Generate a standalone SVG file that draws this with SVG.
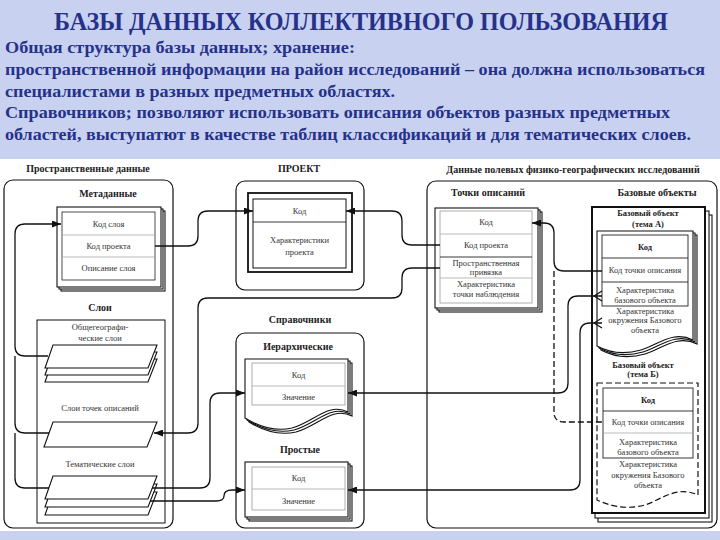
<svg xmlns="http://www.w3.org/2000/svg" width="720" height="540" viewBox="0 0 720 540">
<defs>
<style>
.hd{font-family:'Liberation Serif',serif;font-weight:bold;fill:#26318a}
.t{font-family:'Liberation Serif',serif;font-size:8.5px;fill:#333;text-anchor:middle}
.tb{font-family:'Liberation Serif',serif;font-size:8.5px;font-weight:bold;fill:#222;text-anchor:middle}
.lb{font-family:'Liberation Serif',serif;font-size:10px;font-weight:bold;fill:#222;text-anchor:middle}
.fr{fill:none;stroke:#111;stroke-width:1.2}
.bx{fill:#fff;stroke:#111;stroke-width:1.1}
.in{fill:none;stroke:#999;stroke-width:0.8}
.gl{stroke:#aaa;stroke-width:0.8}
.bl{stroke:#222;stroke-width:0.9}
.cn{fill:none;stroke:#111;stroke-width:1.3}
.ds{fill:none;stroke:#111;stroke-width:1.3;stroke-dasharray:6,3}
</style>
<marker id="ar" markerWidth="9" markerHeight="7" refX="9" refY="3.5" orient="auto" markerUnits="userSpaceOnUse">
<path d="M0,0 L9,3.5 L0,7 z" fill="#111"/>
</marker>
</defs>

<rect x="0" y="0" width="720" height="540" fill="#c8d2f0"/>
<rect x="0" y="159" width="720" height="372" fill="#fff"/>

<g id="heading">
<text class="hd" x="54" y="30" font-size="25" textLength="614" lengthAdjust="spacingAndGlyphs">БАЗЫ ДАННЫХ КОЛЛЕКТИВНОГО ПОЛЬЗОВАНИЯ</text>
<text class="hd" x="5" y="53" font-size="17" textLength="350" lengthAdjust="spacingAndGlyphs">Общая структура базы данных; хранение:</text>
<text class="hd" x="5" y="75" font-size="17" textLength="700" lengthAdjust="spacingAndGlyphs">пространственной информации на район исследований – она должна использоваться</text>
<text class="hd" x="5" y="97" font-size="17" textLength="390" lengthAdjust="spacingAndGlyphs">специалистами в разных предметных областях.</text>
<text class="hd" x="5" y="118" font-size="17" textLength="665" lengthAdjust="spacingAndGlyphs">Справочников; позволяют использовать описания объектов разных предметных</text>
<text class="hd" x="5" y="140" font-size="17" textLength="686" lengthAdjust="spacingAndGlyphs">областей, выступатют в качестве таблиц классификаций и для тематических слоев.</text>
</g>

<!-- Spatial data -->
<g id="spatial">
<text class="lb" x="88" y="172">Пространственные данные</text>
<rect class="fr" x="4" y="180" width="169" height="348" rx="9"/>
</g>

<g id="metadata">
<text class="lb" x="108" y="197" font-size="9.5">Метаданные</text>
<rect class="bx" x="61" y="211" width="104" height="80"/>
<rect class="bx" x="59" y="209" width="104" height="80"/>
<rect class="bx" x="57" y="207" width="104" height="80"/>
<rect x="62" y="212" width="93" height="68" fill="none" stroke="#222" stroke-width="0.8"/>
<line class="gl" x1="62" y1="235" x2="155" y2="235"/>
<line class="gl" x1="62" y1="257" x2="155" y2="257"/>
<text class="t" x="108.5" y="227">Код слоя</text>
<text class="t" x="108.5" y="249">Код проекта</text>
<text class="t" x="108.5" y="271">Описание слоя</text>
</g>

<g id="layers">
<text class="lb" x="100" y="311">Слои</text>
<rect x="37" y="320" width="128" height="203" fill="none" stroke="#111" stroke-width="1"/>
<text class="t" x="100" y="330" font-size="9">Общегеографи-</text>
<text class="t" x="100" y="341" font-size="9">ческие слои</text>
<polygon class="bx" points="53,359 157,359 148,382 45,382"/>
<polygon class="bx" points="53,352 157,352 148,375 45,375"/>
<polygon class="bx" points="53,345 157,345 148,368 45,368"/>
<text class="t" x="100" y="411" font-size="9">Слои точек описаний</text>
<polygon class="bx" points="53,422 157,422 147,447 44,447"/>
<text class="t" x="100" y="467" font-size="9">Тематические слои</text>
<polygon class="bx" points="53,492 157,492 148,515 45,515"/>
<polygon class="bx" points="53,484 157,484 148,507 45,507"/>
<polygon class="bx" points="53,476 157,476 148,499 45,499"/>
</g>

<!-- Project -->
<g id="project">
<text class="lb" x="299" y="172" font-size="11">ПРОЕКТ</text>
<rect class="fr" x="236" y="181" width="128" height="109" rx="9"/>
<rect x="248" y="193" width="104" height="79" fill="none" stroke="#111" stroke-width="1.8"/>
<rect x="253" y="199" width="93" height="69" fill="none" stroke="#111" stroke-width="1"/>
<line class="bl" x1="253" y1="222" x2="346" y2="222"/>
<text class="t" x="299.5" y="214">Код</text>
<text class="t" x="299.5" y="243">Характеристики</text>
<text class="t" x="299.5" y="255">проекта</text>
</g>

<!-- Reference books -->
<g id="refbooks">
<text class="lb" x="300" y="323">Справочники</text>
<rect class="fr" x="236" y="333" width="128" height="195" rx="9"/>
</g>

<g id="hierarchical">
<text class="lb" x="298" y="350" font-size="9.5">Иерархические</text>
<path class="bx" d="M249,363 H352 V416 C332,406 318,426 296,432 C278,436 262,430 249,422 Z"/>
<path class="bx" d="M247,361 H350 V414 C330,404 316,424 294,430 C276,434 260,428 247,420 Z"/>
<path class="bx" d="M245,359 H348 V412 C328,402 314,422 292,428 C274,432 258,426 245,418 Z"/>
<rect class="in" x="252" y="363" width="93" height="42"/>
<line class="gl" x1="252" y1="386" x2="345" y2="386"/>
<text class="t" x="298.5" y="378">Код</text>
<text class="t" x="298.5" y="400">Значение</text>
</g>

<g id="simple">
<text class="lb" x="300" y="453" font-size="9.5">Простые</text>
<rect class="bx" x="249" y="466" width="103" height="55"/>
<rect class="bx" x="247" y="464" width="103" height="55"/>
<rect class="bx" x="245" y="462" width="103" height="55"/>
<rect class="in" x="252" y="467" width="93" height="43"/>
<line class="gl" x1="252" y1="489" x2="345" y2="489"/>
<text class="t" x="298.5" y="481">Код</text>
<text class="t" x="298.5" y="504">Значение</text>
</g>

<!-- Field data -->
<g id="fielddata">
<text class="lb" x="573" y="173">Данные полевых физико-географических исследований</text>
<rect class="fr" x="427" y="181" width="290" height="347" rx="9"/>
</g>

<g id="points">
<text class="lb" x="488" y="196" font-size="9.5">Точки описаний</text>
<rect class="bx" x="439" y="212" width="103" height="100"/>
<rect class="bx" x="437" y="210" width="103" height="100"/>
<rect class="bx" x="435" y="208" width="103" height="100"/>
<rect class="in" x="440" y="211" width="92" height="92"/>
<line class="gl" x1="440" y1="234" x2="532" y2="234"/>
<line class="bl" x1="440" y1="257" x2="532" y2="257"/>
<line class="gl" x1="440" y1="278" x2="532" y2="278"/>
<text class="t" x="486" y="225">Код</text>
<text class="t" x="486" y="248">Код проекта</text>
<text class="t" x="486" y="266">Пространственная</text>
<text class="t" x="486" y="275">привязка</text>
<text class="t" x="486" y="287">Характеристика</text>
<text class="t" x="486" y="297">точки наблюдения</text>
</g>

<g id="baseobjects">
<text class="lb" x="657" y="196" font-size="9.5">Базовые объекты</text>
<rect class="bx" x="598" y="215" width="114" height="307"/>
<rect class="bx" x="595" y="211" width="114" height="307"/>
<rect x="592" y="207" width="113" height="306" fill="#fff" stroke="#111" stroke-width="2"/>
</g>

<g id="baseobjA">
<text class="tb" x="648" y="216">Базовый объект</text>
<text class="tb" x="648" y="227">(тема А)</text>
<path class="bx" d="M601,235 H697 V344 C677,334 662,349 645,354 C627,359 612,356 601,350 Z"/>
<path class="bx" d="M599,233 H695 V342 C675,332 660,347 643,352 C625,357 610,354 599,348 Z"/>
<path class="bx" d="M597,231 H693 V340 C673,330 658,345 641,350 C623,355 608,352 597,346 Z"/>
<rect x="602" y="235" width="86" height="71" fill="none" stroke="#222" stroke-width="0.9"/>
<line class="bl" x1="602" y1="258" x2="688" y2="258"/>
<line class="bl" x1="602" y1="282" x2="688" y2="282" stroke-width="1.4"/>
<text class="tb" x="645" y="250">Код</text>
<text class="t" x="645" y="273">Код точки описания</text>
<text class="t" x="645" y="293">Характеристика</text>
<text class="t" x="645" y="303">базового объекта</text>
<text class="t" x="645" y="314" fill="#666">Характеристика</text>
<text class="t" x="645" y="323" fill="#777">окружения Базового</text>
<text class="t" x="645" y="333" fill="#888">объекта</text>
</g>

<g id="baseobjB">
<text class="tb" x="643" y="368">Базовый объект</text>
<text class="tb" x="643" y="377">(тема Б)</text>
<path d="M597,383 H698 V495 C676,485 661,500 645,505 C626,510 610,506 597,500 Z" fill="#fff" stroke="#111" stroke-width="1.2" stroke-dasharray="6,3"/>
<rect x="603" y="388" width="90" height="70" fill="none" stroke="#222" stroke-width="0.9"/>
<line class="bl" x1="603" y1="411" x2="693" y2="411"/>
<line class="gl" x1="603" y1="433" x2="693" y2="433"/>
<text class="tb" x="648" y="403">Код</text>
<text class="t" x="648" y="425" fill="#555">Код точки описания</text>
<text class="t" x="648" y="445" fill="#555">Характеристика</text>
<text class="t" x="648" y="455" fill="#666">базового объекта</text>
<text class="t" x="648" y="467" fill="#777">Характеристика</text>
<text class="t" x="648" y="478" fill="#777">окружения Базового</text>
<text class="t" x="648" y="488" fill="#888">объекта</text>
</g>

<g id="connectors">
<path class="cn" d="M48,356 H25 Q15,356 15,346 V234 Q15,224 25,224 H61" marker-end="url(#ar)"/>
<path class="cn" d="M49,433 H25 Q15,433 15,423 V356"/>
<path class="cn" d="M49,488 H25 Q15,488 15,478 V433"/>
<path class="cn" d="M155,246 H188 Q198,246 198,236 V221 Q198,211 208,211 H253" marker-end="url(#ar)"/>
<path class="cn" d="M440,245 H412 Q402,245 402,235 V221 Q402,211 392,211 H346" marker-end="url(#ar)"/>
<path class="cn" d="M440,268 H412 Q402,268 402,278 V288 Q402,298 392,298 H208 Q198,298 198,308 V423 Q198,433 188,433 H154" marker-end="url(#ar)"/>
<path class="cn" d="M152,488 H200 Q210,488 210,478 V403 Q210,393 220,393 H245" marker-end="url(#ar)"/>
<path class="cn" d="M150,501 H216 Q224,501 224,496 Q224,490 232,490 H245" marker-end="url(#ar)"/>
<path class="cn" d="M602,271 H564 Q554,271 554,261 V233 Q554,223 544,223 H532" marker-end="url(#ar)"/>
<path class="ds" d="M554,271 V412 Q554,422 564,422 H603"/>
<path class="cn" d="M602,296 H578 Q568,296 568,306 V383 Q568,393 558,393 H348" marker-end="url(#ar)"/>
<path class="cn" d="M602,323 H590 Q580,323 580,333 V480 Q580,490 570,490 H348" marker-end="url(#ar)"/>
<path class="cn" d="M594,296 L602,291 M594,296 L602,301" stroke-width="1"/>
<path class="cn" d="M594,323 L602,318 M594,323 L602,328" stroke-width="1"/>
</g>
</svg>
